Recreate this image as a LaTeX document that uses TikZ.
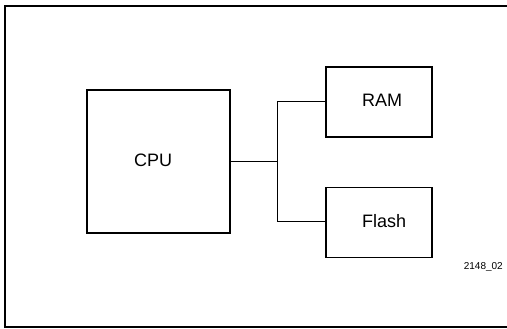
\documentclass[tikz,border=0pt]{standalone}
\usepackage{fontspec}
\setmainfont{Liberation Sans}
\begin{document}
\begin{tikzpicture}[x=1pt,y=-1pt,
  blk/.style={draw, line width=1.5pt, inner sep=0pt},
  bus/.style={draw, line width=1.6pt},
  lbl/.style={font=\fontsize{18}{18}\selectfont, anchor=west, inner sep=0pt},
  small/.style={font=\fontsize{10}{10}\selectfont, anchor=east, inner sep=0pt}]
\useasboundingbox (0,0) rectangle (507,329);
\draw[line width=1.8pt] (560,6) -- (5,6) -- (5,327) -- (560,327);
\node[blk, minimum width=143pt, minimum height=143pt] (cpu) at (158.5,161.5) {};
\node[blk, minimum width=106pt, minimum height=70pt] (ram) at (379,102) {};
\node[blk, minimum width=106pt, minimum height=70pt] (flash) at (379,222.5) {};
\node[lbl] (cput) at (134,160.5) {CPU};
\node[lbl] (ramt) at (362,100.5) {RAM};
\node[lbl] (flasht) at (362,221) {Flash};
\node[small] (id) at (503,267) {2148\_02};
\coordinate (j) at (277.5,161.5);
\coordinate (jr) at (277.5,101.5);
\coordinate (jf) at (277.5,221.5);
\draw[bus] (cpu.east |- j) -- (j);
\draw[bus] (jr) -- (jf);
\draw[bus] (jr) -- (ram.west |- jr);
\draw[bus] (jf) -- (flash.west |- jf);
\end{tikzpicture}
\end{document}
